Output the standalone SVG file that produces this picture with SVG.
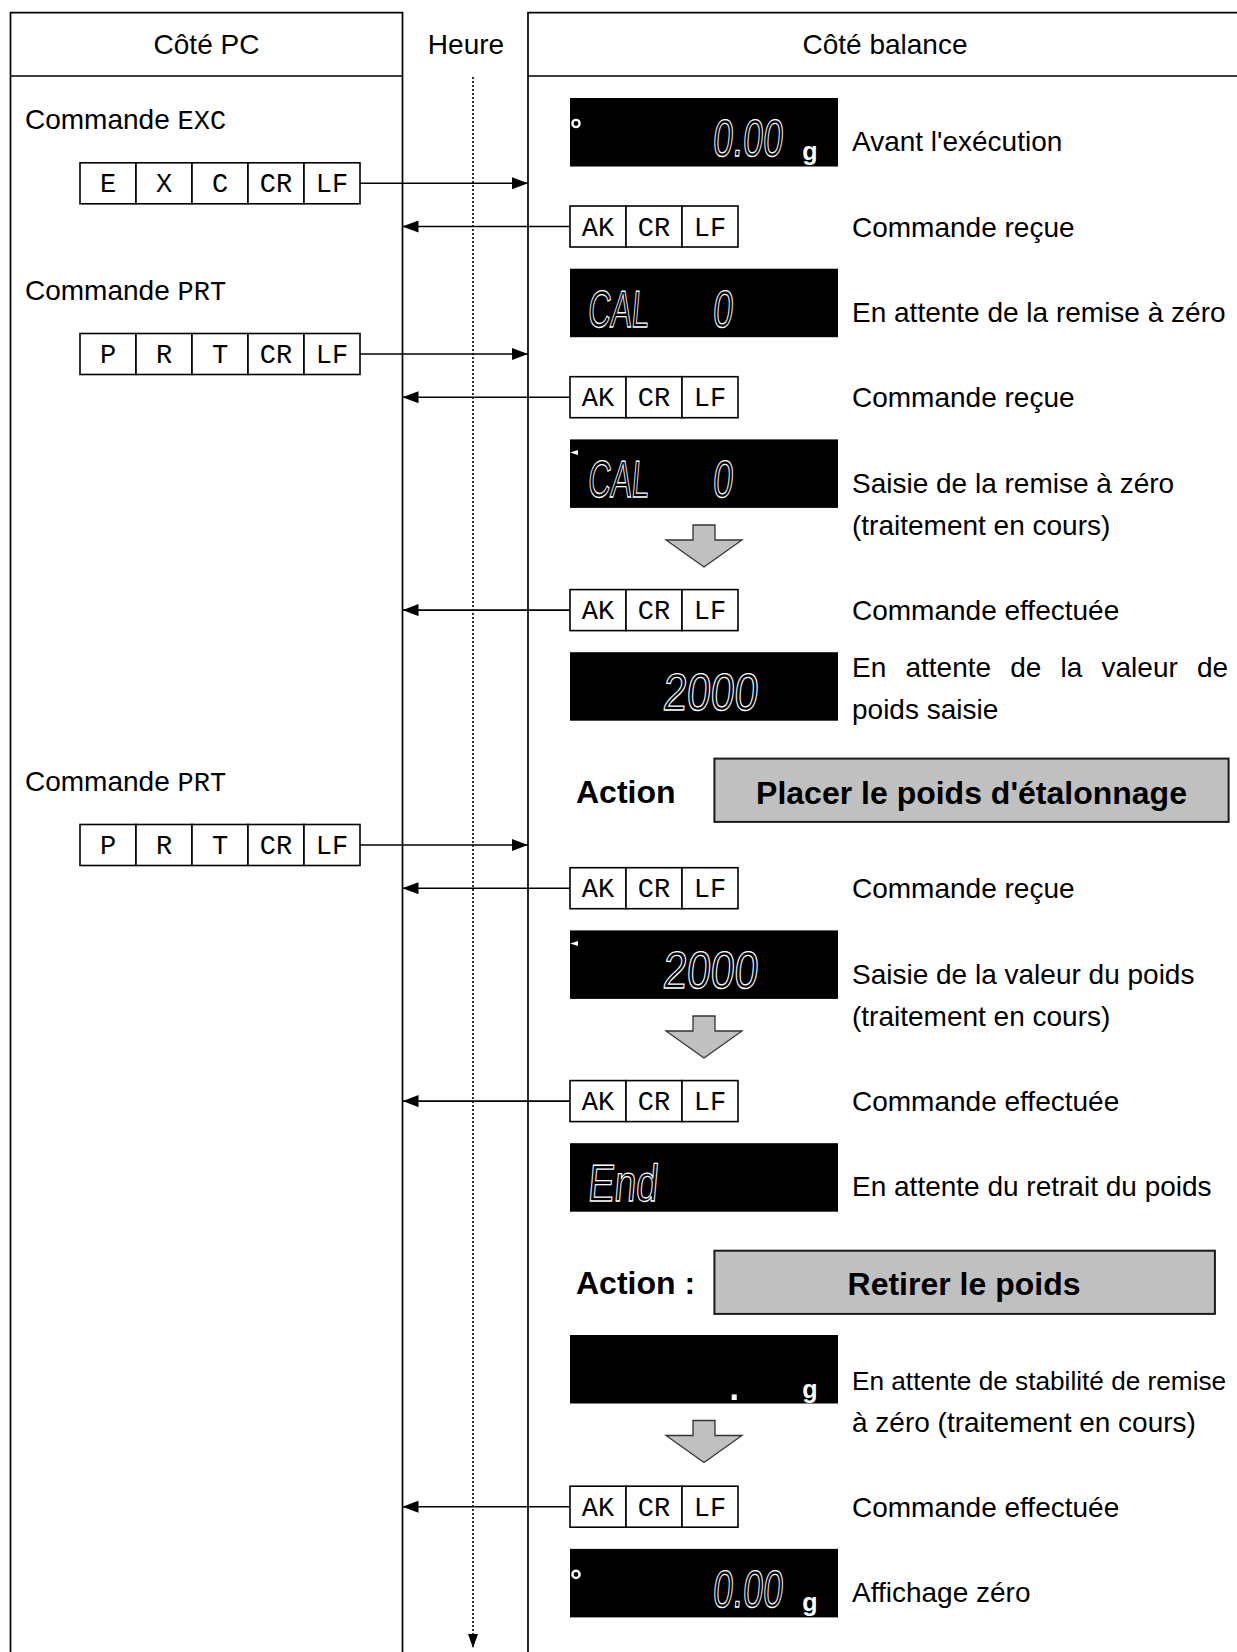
<svg xmlns="http://www.w3.org/2000/svg" width="1237" height="1652" viewBox="0 0 1237 1652">
<defs>
<style>
.frame{fill:none;stroke:#000;stroke-width:1.7}
.t{font-family:"Liberation Sans",Arial,sans-serif;font-size:28px;fill:#000}
.m{font-family:"Liberation Mono","Courier New",monospace;font-size:27px}
.c{fill:#fff;stroke:#000;stroke-width:1.6}
.ct{font-family:"Liberation Mono","Courier New",monospace;font-size:27px;text-anchor:middle;fill:#000}
.lcd{fill:#000}
.seg{font-family:"Liberation Sans",Arial,sans-serif;font-size:52px;fill:none;stroke:#fff;stroke-width:1.3}
.unit{font-family:"Liberation Sans",Arial,sans-serif;font-size:25px;font-weight:bold;fill:#fff}
.ind{fill:none;stroke:#fff;stroke-width:2.4}
.b{font-family:"Liberation Sans",Arial,sans-serif;font-size:32px;font-weight:bold;fill:#000}
.act{fill:#c0c0c0;stroke:#1a1a1a;stroke-width:2}
.down{fill:#c0c0c0;stroke:#333;stroke-width:1.3}
.conn{fill:none;stroke:#000;stroke-width:1.6}
.time{fill:none;stroke:#000;stroke-width:1.6;stroke-dasharray:2 2}
</style>
<marker id="ah" viewBox="0 0 16 12" refX="16" refY="6" markerWidth="16" markerHeight="12" orient="auto" markerUnits="userSpaceOnUse">
<path d="M0,0 L16,6 L0,12 Z" fill="#000"/>
</marker>
<marker id="ahs" viewBox="0 0 14 10" refX="14" refY="5" markerWidth="14" markerHeight="10" orient="auto" markerUnits="userSpaceOnUse">
<path d="M0,0 L14,5 L0,10 Z" fill="#000"/>
</marker>
</defs>
<rect width="1237" height="1652" fill="#fff"/>

<!-- column frames -->
<g id="col-pc">
<path class="frame" d="M10.5,1660 V12.6 H402.5 V1660 M10.5,76 H402.5"/>
<text class="t" x="206.5" y="54" text-anchor="middle">Côté PC</text>
</g>
<g id="col-time">
<text class="t" x="466" y="54" text-anchor="middle">Heure</text>
</g>
<g id="col-balance">
<path class="frame" d="M528,1660 V12.6 H1250 M528,76 H1250"/>
<text class="t" x="885" y="54" text-anchor="middle">Côté balance</text>
</g>

<!-- PC side commands -->
<g id="cmd-exc">
<text class="t" x="25" y="129">Commande <tspan class="m">EXC</tspan></text>
<g transform="translate(80,162.8)">
<rect class="c" x="0" y="0" width="56" height="41"/><rect class="c" x="56" y="0" width="56" height="41"/><rect class="c" x="112" y="0" width="56" height="41"/><rect class="c" x="168" y="0" width="56" height="41"/><rect class="c" x="224" y="0" width="56" height="41"/>
<text class="ct" x="28" y="29.5">E</text><text class="ct" x="84" y="29.5">X</text><text class="ct" x="140" y="29.5">C</text><text class="ct" x="196" y="29.5">CR</text><text class="ct" x="252" y="29.5">LF</text>
</g>
</g>
<g id="cmd-prt-1">
<text class="t" x="25" y="300">Commande <tspan class="m">PRT</tspan></text>
<g transform="translate(80,333.5)">
<rect class="c" x="0" y="0" width="56" height="41"/><rect class="c" x="56" y="0" width="56" height="41"/><rect class="c" x="112" y="0" width="56" height="41"/><rect class="c" x="168" y="0" width="56" height="41"/><rect class="c" x="224" y="0" width="56" height="41"/>
<text class="ct" x="28" y="29.5">P</text><text class="ct" x="84" y="29.5">R</text><text class="ct" x="140" y="29.5">T</text><text class="ct" x="196" y="29.5">CR</text><text class="ct" x="252" y="29.5">LF</text>
</g>
</g>
<g id="cmd-prt-2">
<text class="t" x="25" y="791">Commande <tspan class="m">PRT</tspan></text>
<g transform="translate(80,824.5)">
<rect class="c" x="0" y="0" width="56" height="41"/><rect class="c" x="56" y="0" width="56" height="41"/><rect class="c" x="112" y="0" width="56" height="41"/><rect class="c" x="168" y="0" width="56" height="41"/><rect class="c" x="224" y="0" width="56" height="41"/>
<text class="ct" x="28" y="29.5">P</text><text class="ct" x="84" y="29.5">R</text><text class="ct" x="140" y="29.5">T</text><text class="ct" x="196" y="29.5">CR</text><text class="ct" x="252" y="29.5">LF</text>
</g>
</g>

<!-- balance replies -->
<g id="ack-1" transform="translate(570,206)">
<rect class="c" x="0" y="0" width="56" height="41"/><rect class="c" x="56" y="0" width="56" height="41"/><rect class="c" x="112" y="0" width="56" height="41"/>
<text class="ct" x="28" y="29.5">AK</text><text class="ct" x="84" y="29.5">CR</text><text class="ct" x="140" y="29.5">LF</text>
</g>
<g id="ack-2" transform="translate(570,376.7)">
<rect class="c" x="0" y="0" width="56" height="41"/><rect class="c" x="56" y="0" width="56" height="41"/><rect class="c" x="112" y="0" width="56" height="41"/>
<text class="ct" x="28" y="29.5">AK</text><text class="ct" x="84" y="29.5">CR</text><text class="ct" x="140" y="29.5">LF</text>
</g>
<g id="ack-3" transform="translate(570,589.6)">
<rect class="c" x="0" y="0" width="56" height="41"/><rect class="c" x="56" y="0" width="56" height="41"/><rect class="c" x="112" y="0" width="56" height="41"/>
<text class="ct" x="28" y="29.5">AK</text><text class="ct" x="84" y="29.5">CR</text><text class="ct" x="140" y="29.5">LF</text>
</g>
<g id="ack-4" transform="translate(570,867.7)">
<rect class="c" x="0" y="0" width="56" height="41"/><rect class="c" x="56" y="0" width="56" height="41"/><rect class="c" x="112" y="0" width="56" height="41"/>
<text class="ct" x="28" y="29.5">AK</text><text class="ct" x="84" y="29.5">CR</text><text class="ct" x="140" y="29.5">LF</text>
</g>
<g id="ack-5" transform="translate(570,1080.6)">
<rect class="c" x="0" y="0" width="56" height="41"/><rect class="c" x="56" y="0" width="56" height="41"/><rect class="c" x="112" y="0" width="56" height="41"/>
<text class="ct" x="28" y="29.5">AK</text><text class="ct" x="84" y="29.5">CR</text><text class="ct" x="140" y="29.5">LF</text>
</g>
<g id="ack-6" transform="translate(570,1486.2)">
<rect class="c" x="0" y="0" width="56" height="41"/><rect class="c" x="56" y="0" width="56" height="41"/><rect class="c" x="112" y="0" width="56" height="41"/>
<text class="ct" x="28" y="29.5">AK</text><text class="ct" x="84" y="29.5">CR</text><text class="ct" x="140" y="29.5">LF</text>
</g>

<!-- balance displays -->
<g id="disp-1">
<rect class="lcd" x="570" y="98" width="268" height="68.5"/>
<circle class="ind" cx="576" cy="123.5" r="3.6"/>
<text class="seg" x="712" y="156" textLength="70" lengthAdjust="spacingAndGlyphs" transform="translate(0,156) skewX(-5) translate(0,-156)">0.00</text>
<text class="unit" x="810" y="160" text-anchor="middle">g</text>
</g>
<g id="disp-2">
<rect class="lcd" x="570" y="268.7" width="268" height="68.5"/>
<g transform="translate(0,326.7) skewX(-5) translate(0,-326.7)">
<text class="seg" x="587" y="326.7" textLength="61" lengthAdjust="spacingAndGlyphs">CAL</text>
<text class="seg" x="712" y="326.7" textLength="20" lengthAdjust="spacingAndGlyphs">0</text>
</g>
</g>
<g id="disp-3">
<rect class="lcd" x="570" y="439.4" width="268" height="68.5"/>
<path d="M570,452.5 L578,450 L578,455 Z" fill="#fff"/>
<g transform="translate(0,497.4) skewX(-5) translate(0,-497.4)">
<text class="seg" x="587" y="497.4" textLength="61" lengthAdjust="spacingAndGlyphs">CAL</text>
<text class="seg" x="712" y="497.4" textLength="20" lengthAdjust="spacingAndGlyphs">0</text>
</g>
</g>
<g id="disp-4">
<rect class="lcd" x="570" y="652.2" width="268" height="68.5"/>
<text class="seg" x="662" y="710.2" textLength="95" lengthAdjust="spacingAndGlyphs" transform="translate(0,710.2) skewX(-5) translate(0,-710.2)">2000</text>
</g>
<g id="disp-5">
<rect class="lcd" x="570" y="930.4" width="268" height="68.5"/>
<path d="M570,943.5 L578,941 L578,946 Z" fill="#fff"/>
<text class="seg" x="662" y="988.4" textLength="95" lengthAdjust="spacingAndGlyphs" transform="translate(0,988.4) skewX(-5) translate(0,-988.4)">2000</text>
</g>
<g id="disp-6">
<rect class="lcd" x="570" y="1143.2" width="268" height="68.5"/>
<text class="seg" x="587" y="1201.2" textLength="70" lengthAdjust="spacingAndGlyphs" transform="translate(0,1201.2) skewX(-5) translate(0,-1201.2)">End</text>
</g>
<g id="disp-7">
<rect class="lcd" x="570" y="1335" width="268" height="68.5"/>
<text class="seg" x="727" y="1400" style="fill:#fff;stroke:none">.</text>
<text class="unit" x="810" y="1397.5" text-anchor="middle">g</text>
</g>
<g id="disp-8">
<rect class="lcd" x="570" y="1548.9" width="268" height="68.5"/>
<circle class="ind" cx="576" cy="1574.4" r="3.6"/>
<text class="seg" x="712" y="1606.9" textLength="70" lengthAdjust="spacingAndGlyphs" transform="translate(0,1606.9) skewX(-5) translate(0,-1606.9)">0.00</text>
<text class="unit" x="810" y="1610.9" text-anchor="middle">g</text>
</g>

<!-- processing arrows between display states -->
<g id="step-1"><path class="down" d="M693,525 H715 V540 H742 L704,567 L666,540 H693 Z"/></g>
<g id="step-2"><path class="down" d="M693,1016 H715 V1031 H742 L704,1058 L666,1031 H693 Z"/></g>
<g id="step-3"><path class="down" d="M693,1420.5 H715 V1435.5 H742 L704,1462.5 L666,1435.5 H693 Z"/></g>

<!-- operator actions -->
<g id="action-1">
<text class="b" x="576" y="803">Action</text>
<rect class="act" x="714.4" y="758.6" width="514.2" height="63.3"/>
<text class="b" x="971.5" y="804" text-anchor="middle">Placer le poids d'étalonnage</text>
</g>
<g id="action-2">
<text class="b" x="576" y="1294">Action :</text>
<rect class="act" x="714.4" y="1250.7" width="500.5" height="63.2"/>
<text class="b" x="964" y="1295" text-anchor="middle">Retirer le poids</text>
</g>

<!-- state descriptions -->
<g id="labels">
<text class="t" x="852" y="151">Avant l'exécution</text>
<text class="t" x="852" y="236.5">Commande reçue</text>
<text class="t" x="852" y="322">En attente de la remise à zéro</text>
<text class="t" x="852" y="407">Commande reçue</text>
<text class="t" x="852" y="492.5">Saisie de la remise à zéro</text>
<text class="t" x="852" y="534.7">(traitement en cours)</text>
<text class="t" x="852" y="620">Commande effectuée</text>
<text class="t" x="852" y="677" word-spacing="11.4">En attente de la valeur de</text>
<text class="t" x="852" y="719">poids saisie</text>
<text class="t" x="852" y="898">Commande reçue</text>
<text class="t" x="852" y="983.6">Saisie de la valeur du poids</text>
<text class="t" x="852" y="1025.7">(traitement en cours)</text>
<text class="t" x="852" y="1111">Commande effectuée</text>
<text class="t" x="852" y="1196.4">En attente du retrait du poids</text>
<text class="t" x="852" y="1390" style="font-size:26.2px">En attente de stabilité de remise</text>
<text class="t" x="852" y="1432.4">à zéro (traitement en cours)</text>
<text class="t" x="852" y="1516.7">Commande effectuée</text>
<text class="t" x="852" y="1602">Affichage zéro</text>
</g>

<!-- connectors -->
<g id="connectors">
<line class="time" x1="473" y1="77" x2="473" y2="1648" marker-end="url(#ahs)"/>
<line class="conn" x1="360" y1="183.3" x2="528" y2="183.3" marker-end="url(#ah)"/>
<line class="conn" x1="570" y1="226.5" x2="402.5" y2="226.5" marker-end="url(#ah)"/>
<line class="conn" x1="360" y1="354" x2="528" y2="354" marker-end="url(#ah)"/>
<line class="conn" x1="570" y1="397.2" x2="402.5" y2="397.2" marker-end="url(#ah)"/>
<line class="conn" x1="570" y1="610.1" x2="402.5" y2="610.1" marker-end="url(#ah)"/>
<line class="conn" x1="360" y1="845" x2="528" y2="845" marker-end="url(#ah)"/>
<line class="conn" x1="570" y1="888.2" x2="402.5" y2="888.2" marker-end="url(#ah)"/>
<line class="conn" x1="570" y1="1101.1" x2="402.5" y2="1101.1" marker-end="url(#ah)"/>
<line class="conn" x1="570" y1="1506.7" x2="402.5" y2="1506.7" marker-end="url(#ah)"/>
</g>
</svg>
